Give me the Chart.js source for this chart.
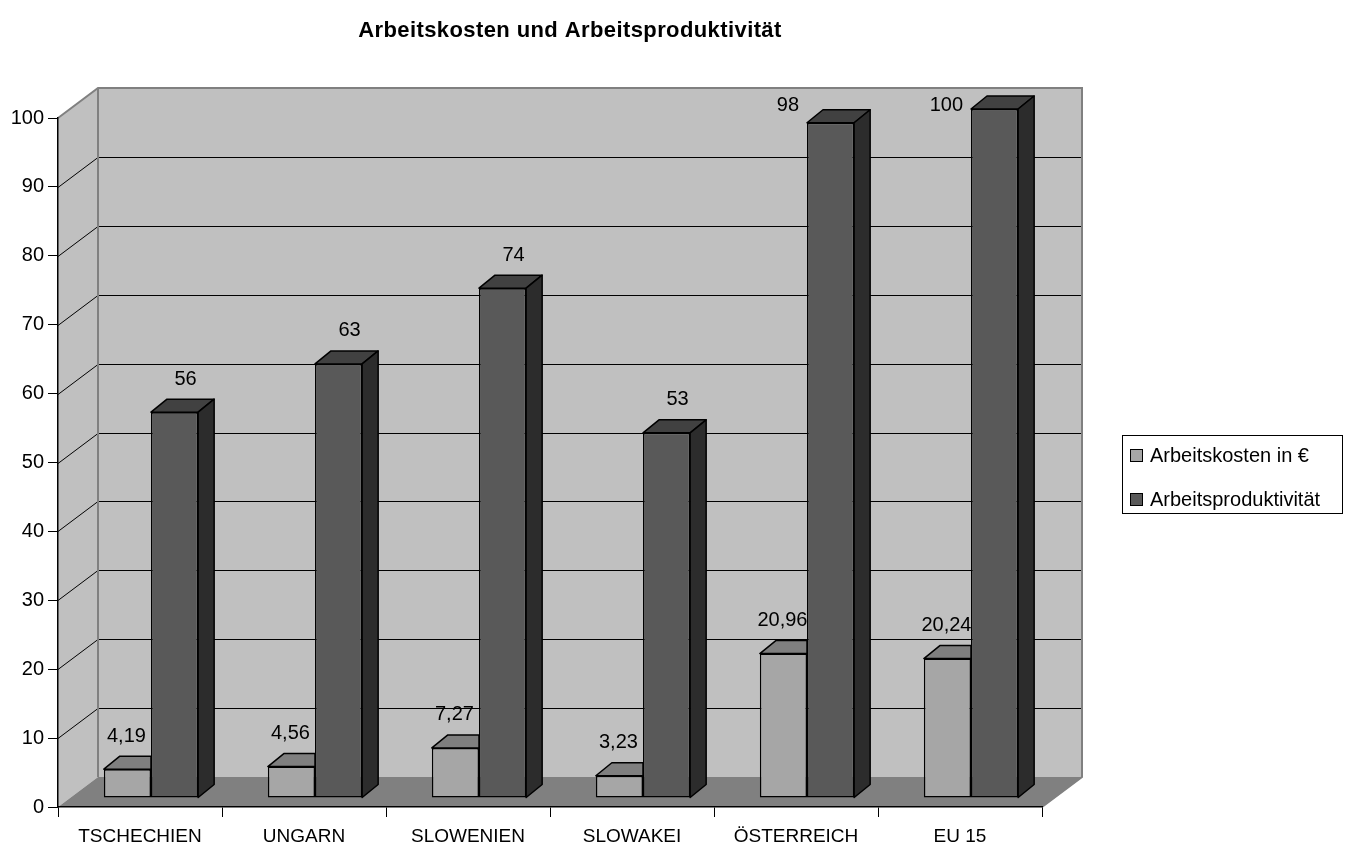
<!DOCTYPE html>
<html>
<head>
<meta charset="utf-8">
<script src="https://cdn.jsdelivr.net/npm/chart.js@4/dist/chart.umd.min.js"></script>
<style>
  html, body { margin: 0; padding: 0; background: #fff; }
</style>
</head>
<body>
<canvas id="chart" width="1351" height="846"></canvas>
<script>
// ---- data ----
const categories = ['TSCHECHIEN', 'UNGARN', 'SLOWENIEN', 'SLOWAKEI', 'ÖSTERREICH', 'EU 15'];
const laborCost = [4.19, 4.56, 7.27, 3.23, 20.96, 20.24];
const productivity = [56, 63, 74, 53, 98, 100];
const seriesNames = ['Arbeitskosten in €', 'Arbeitsproduktivität'];
const yTicks = [0, 10, 20, 30, 40, 50, 60, 70, 80, 90, 100];

// ---- fake 3D geometry (Excel-style box) ----
const WALL_DX = 40, WALL_DY = 30;   // depth of the wall/floor box
const BAR_SX = 11, BAR_SY = -9;     // bars sit a little back in the box
const BAR_DX = 16, BAR_DY = 13;     // depth of each bar
const LABEL_DX = [-1, 11];          // label nudge per series (3D perspective drift)
const FONT = '"Liberation Sans", Arial, sans-serif';

const frontColors = ['#a6a6a6', '#595959'];
const topColors = ['#7f7f7f', '#414141'];
const sideColors = ['#7a7a7a', '#2c2c2c'];

// German decimal comma
const fmt = v => String(v).replace('.', ',');

function poly(ctx, pts, fill, stroke, lw) {
    ctx.beginPath();
    ctx.moveTo(pts[0][0], pts[0][1]);
    for (let i = 1; i < pts.length; i++) ctx.lineTo(pts[i][0], pts[i][1]);
    ctx.closePath();
    if (fill) { ctx.fillStyle = fill; ctx.fill(); }
    if (stroke) { ctx.strokeStyle = stroke; ctx.lineWidth = lw || 1; ctx.stroke(); }
}

const box3d = {
    id: 'box3d',
    beforeDraw(chart) {
        const ctx = chart.ctx;
        const { left, right, top, bottom } = chart.chartArea;
        const ys = chart.scales.y;
        ctx.save();
        // back wall
        poly(ctx, [[left + WALL_DX, top - WALL_DY], [right + WALL_DX, top - WALL_DY],
                   [right + WALL_DX, bottom - WALL_DY], [left + WALL_DX, bottom - WALL_DY]], '#c0c0c0');
        // left wall
        poly(ctx, [[left, top], [left + WALL_DX, top - WALL_DY],
                   [left + WALL_DX, bottom - WALL_DY], [left, bottom]], '#c0c0c0');
        // floor
        poly(ctx, [[left, bottom], [left + WALL_DX, bottom - WALL_DY],
                   [right + WALL_DX, bottom - WALL_DY], [right, bottom]], '#808080');
        // gridlines: diagonal on the side wall + horizontal on the back wall
        ctx.strokeStyle = '#000';
        ctx.lineWidth = 1;
        yTicks.slice(1, -1).forEach(v => {
            const py = Math.round(ys.getPixelForValue(v)) + 0.5;
            ctx.beginPath();
            ctx.moveTo(left, py);
            ctx.lineTo(left + WALL_DX, py - WALL_DY);
            ctx.lineTo(right + WALL_DX, py - WALL_DY);
            ctx.stroke();
        });
        // wall outlines
        ctx.strokeStyle = '#808080';
        ctx.lineWidth = 2;
        ctx.beginPath();
        ctx.moveTo(left, top);
        ctx.lineTo(left + WALL_DX, top - WALL_DY);
        ctx.lineTo(right + WALL_DX, top - WALL_DY);
        ctx.lineTo(right + WALL_DX, bottom - WALL_DY);
        ctx.lineTo(right, bottom);
        ctx.moveTo(left + WALL_DX, top - WALL_DY);
        ctx.lineTo(left + WALL_DX, bottom - WALL_DY);
        ctx.stroke();
        // title
        ctx.fillStyle = '#000';
        ctx.font = 'bold 22px ' + FONT;
        ctx.letterSpacing = '0.4px';
        ctx.textAlign = 'center';
        ctx.textBaseline = 'middle';
        ctx.fillText('Arbeitskosten und Arbeitsproduktivität', (left + right + WALL_DX) / 2, 31);
        ctx.restore();
    },
    beforeDatasetsDraw(chart) {
        chart.ctx.save();
        chart.ctx.translate(BAR_SX, BAR_SY);
    },
    afterDatasetsDraw(chart) {
        const ctx = chart.ctx;
        const light = chart.getDatasetMeta(0).data;
        const dark = chart.getDatasetMeta(1).data;
        ctx.lineJoin = 'round';
        for (let i = 0; i < light.length; i++) {
            // light bar: only the top is visible, its side hides behind the dark bar
            let b = light[i];
            let x0 = b.x - b.width / 2, x1 = b.x + b.width / 2, y = b.y;
            poly(ctx, [[x0, y], [x0 + BAR_DX, y - BAR_DY], [x1, y - BAR_DY], [x1, y]], topColors[0], '#000', 1.5);
            // dark bar: top and side
            b = dark[i];
            x0 = b.x - b.width / 2; x1 = b.x + b.width / 2; y = b.y;
            const base = b.base;
            poly(ctx, [[x0, y], [x0 + BAR_DX, y - BAR_DY], [x1 + BAR_DX, y - BAR_DY], [x1, y]], topColors[1], '#000', 1.5);
            poly(ctx, [[x1, y], [x1 + BAR_DX, y - BAR_DY], [x1 + BAR_DX, base - BAR_DY], [x1, base]], sideColors[1], '#000', 1.5);
        }
        ctx.restore();

        // value labels
        ctx.save();
        ctx.fillStyle = '#000';
        ctx.font = '20px ' + FONT;
        ctx.textBaseline = 'middle';
        [light, dark].forEach((els, d) => {
            const vals = chart.data.datasets[d].data;
            els.forEach((b, i) => {
                let lx = b.x + BAR_SX + LABEL_DX[d];
                let ly = b.y + BAR_SY - 33;
                ctx.textAlign = 'center';
                if (ly < chart.chartArea.top - 14) {
                    // no room above the box: Excel pushes the label to the left of the bar
                    lx = b.x - b.width / 2 + BAR_SX - 8;
                    ly = chart.chartArea.top - 13;
                    ctx.textAlign = 'right';
                }
                ctx.fillText(fmt(vals[i]), lx, ly);
            });
        });
        ctx.restore();
    },
    afterDraw(chart) {
        const ctx = chart.ctx;
        const bx = 1122, by = 435, bw = 220, bh = 78;
        ctx.save();
        ctx.strokeStyle = '#000';
        ctx.lineWidth = 1;
        ctx.strokeRect(bx + 0.5, by + 0.5, bw, bh);
        ctx.font = '20px ' + FONT;
        ctx.textAlign = 'left';
        ctx.textBaseline = 'middle';
        chart.data.datasets.forEach((ds, d) => {
            const cy = by + 20 + d * 44;
            ctx.fillStyle = ds.backgroundColor;
            ctx.fillRect(bx + 8, cy - 6, 12, 12);
            ctx.strokeRect(bx + 8.5, cy - 5.5, 12, 12);
            ctx.fillStyle = '#000';
            ctx.fillText(ds.label, bx + 28, cy + 1);
        });
        ctx.restore();
    }
};

new Chart(document.getElementById('chart'), {
    type: 'bar',
    data: {
        labels: categories,
        datasets: [
            { label: seriesNames[0], data: laborCost, backgroundColor: frontColors[0] },
            { label: seriesNames[1], data: productivity, backgroundColor: frontColors[1] }
        ]
    },
    options: {
        responsive: false,
        animation: false,
        layout: { padding: { top: 118, right: 309, left: 0, bottom: 0 } },
        datasets: {
            bar: {
                categoryPercentage: 0.575,
                barPercentage: 1,
                borderColor: '#000',
                borderWidth: 1.5,
                borderSkipped: false,
                clip: false
            }
        },
        plugins: {
            legend: { display: false },
            title: { display: false },
            tooltip: { enabled: false }
        },
        scales: {
            x: {
                offset: true,
                grid: { offset: true, drawOnChartArea: false, drawTicks: true, tickLength: 10, color: '#000' },
                border: { color: '#000', width: 1.5 },
                ticks: { color: '#000', font: { family: FONT, size: 19 }, padding: 8, maxRotation: 0, autoSkip: false },
                afterFit(s) { s.height = 39; }
            },
            y: {
                min: 0,
                max: 100,
                afterBuildTicks(s) { s.ticks = yTicks.map(v => ({ value: v })); },
                grid: { drawOnChartArea: false, drawTicks: true, tickLength: 10, color: '#000' },
                border: { color: '#000', width: 1.5 },
                ticks: { color: '#000', font: { family: FONT, size: 20 }, padding: 4 },
                afterFit(s) { s.width = 58; }
            }
        }
    },
    plugins: [box3d]
});
</script>
</body>
</html>
